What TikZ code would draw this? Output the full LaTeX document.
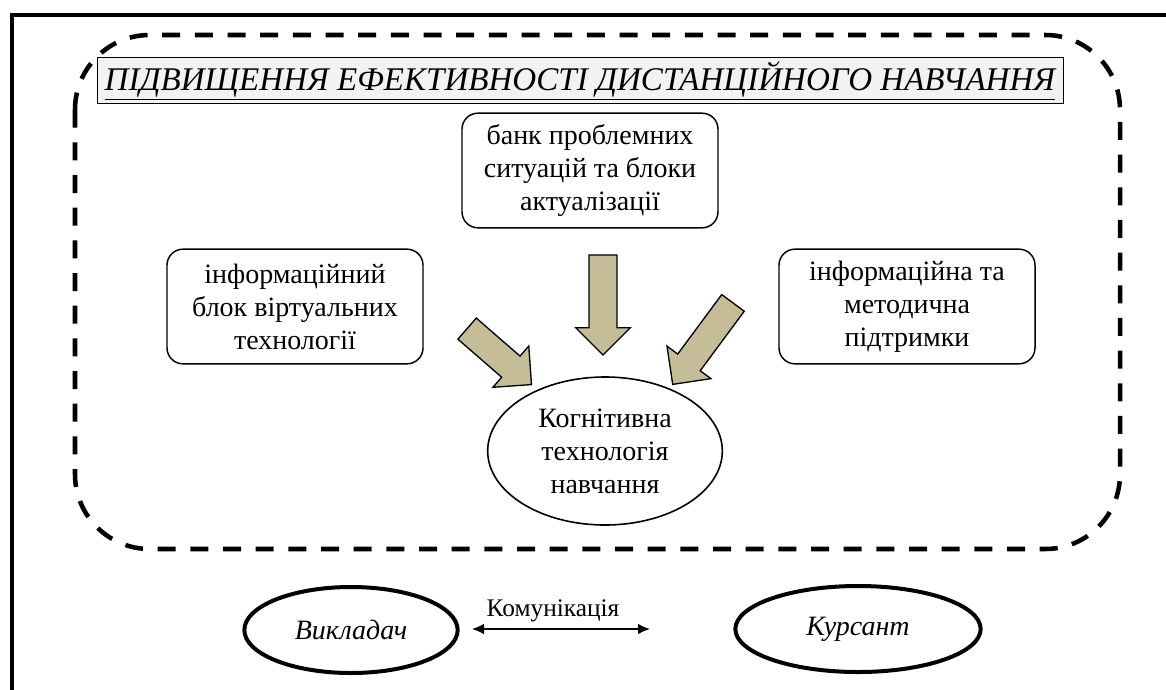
\documentclass[tikz,border=0pt]{standalone}
\usepackage{fontspec}
\setmainfont{Liberation Serif}
\usetikzlibrary{shapes.geometric,shapes.arrows,arrows.meta}
\definecolor{tanfill}{RGB}{196,189,151}
\definecolor{titlegray}{RGB}{242,242,242}
\newcommand{\bodyfont}{\fontsize{21}{24.75}\selectfont}
\newcommand{\titlefont}{\fontsize{24.8}{28}\selectfont\itshape}
\newcommand{\personfont}{\fontsize{21}{24}\selectfont\itshape}

\begin{document}
\begin{tikzpicture}[x=0.75pt,y=-0.75pt,
  infobox/.style={draw,line width=1.1pt,rounded corners=12pt,minimum width=192pt,minimum height=86pt,align=center,font=\bodyfont},
  blockarrow/.style={single arrow,draw,line width=1pt,fill=tanfill,inner xsep=0pt,inner ysep=10pt,single arrow head extend=10pt},
  person/.style={ellipse,draw,line width=3pt,minimum height=64.5pt,font=\personfont}]
\clip (0,0) rectangle (1166,689);

\draw[line width=3pt] (12,700) -- (12,15) -- (1180,15);
\draw[line width=3.4pt,dash pattern=on 13.5pt off 11pt,rounded corners=56pt] (75,35) rectangle (1120,549);

\node[draw,line width=0.75pt,fill=titlegray,minimum width=724.5pt,minimum height=35pt,inner sep=0pt,font=\titlefont] (title) at (580,80.5) {\underline{ПІДВИЩЕННЯ ЕФЕКТИВНОСТІ ДИСТАНЦІЙНОГО НАВЧАННЯ}};

\node[infobox] (bank) at (590,170.5) {банк проблемних\\ситуацій та блоки\\актуалізації};
\node[infobox] (infoblock) at (295,306.5) {інформаційний\\блок віртуальних\\технології};
\node[infobox] (support) at (907,306.5) {інформаційна та\\методична\\підтримки};
\node[ellipse,draw,line width=1.2pt,minimum width=176pt,minimum height=111pt,inner sep=0pt,align=center,font=\bodyfont] (cognit) at (605,451) {Когнітивна\\технологія\\навчання};

\node[blockarrow,minimum height=75pt,rotate=-90] (arrmid) at (603,298) {};
\node[blockarrow,minimum height=64pt,rotate=-41] (arrleft) at (494,352) {};
\node[blockarrow,minimum height=76pt,rotate=-126.5] (arrright) at (707,338) {};

\node[person,minimum width=160pt] (teacher) at (351,630) {Викладач};
\node[person,minimum width=184pt] (cadet) at (858,629) {Курсант};
\coordinate (komL) at (472,629);
\coordinate (komR) at (650,629);
\draw[{Latex[length=9pt,width=8pt]}-{Latex[length=9pt,width=8pt]},line width=1.1pt] (komL) -- (komR);
\node[font=\fontsize{19}{22}\selectfont] (komlabel) at (553,611) {Комунікація};
\end{tikzpicture}
\end{document}
